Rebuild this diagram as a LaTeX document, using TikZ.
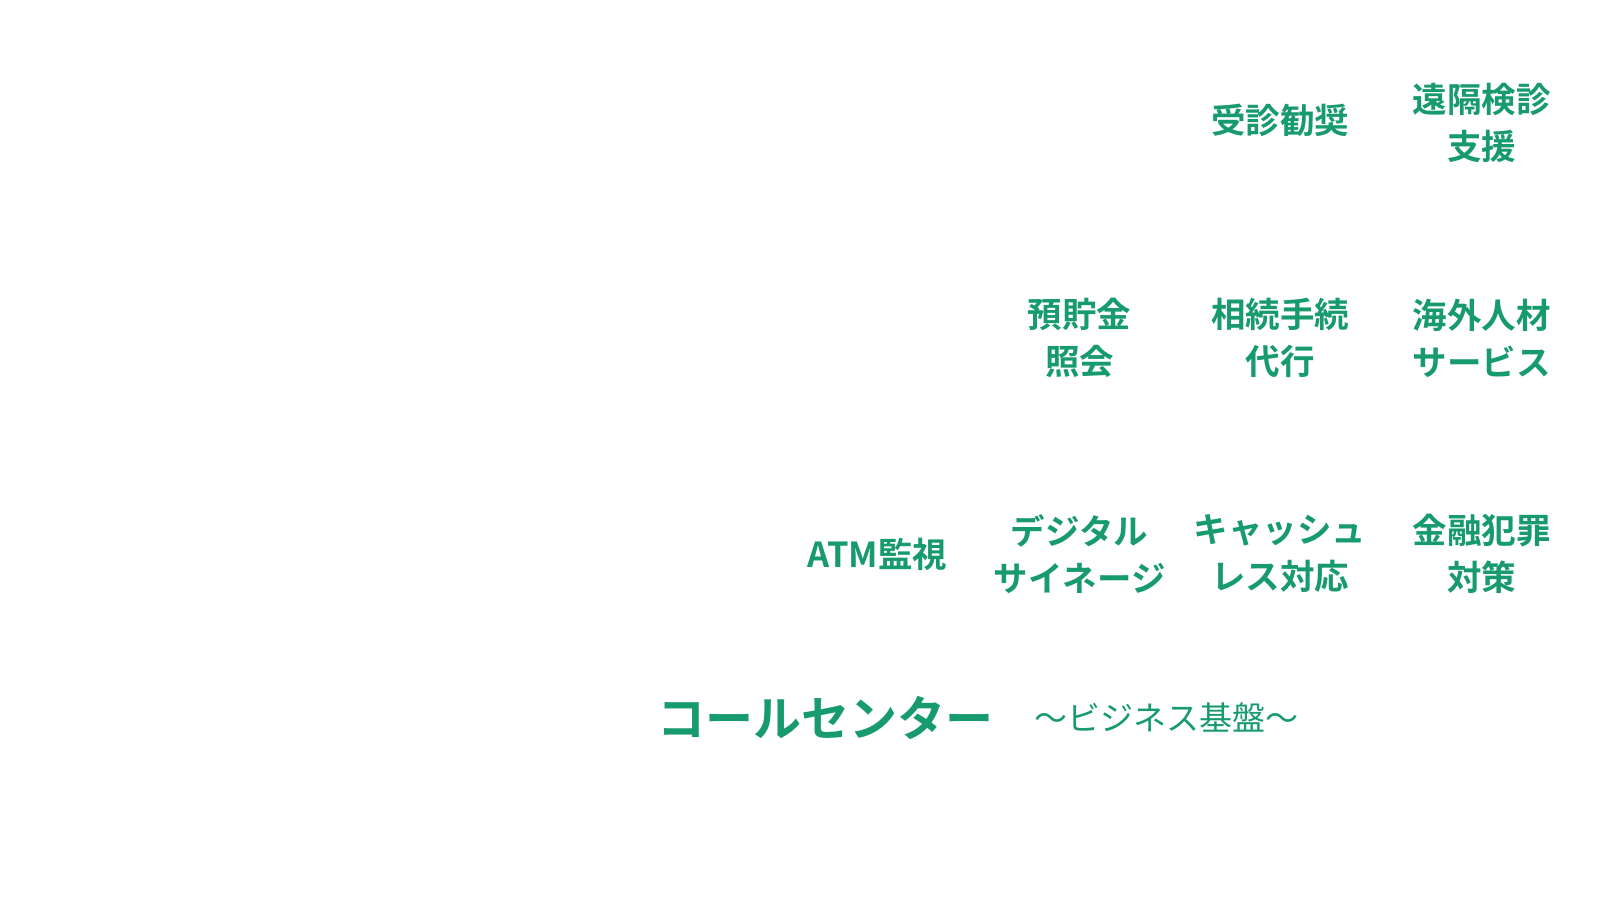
\documentclass[tikz,border=0pt]{standalone}
\usepackage{fontspec}
\newfontfamily\cjk[BoldFont=* Bold]{Noto Sans CJK JP}
\definecolor{tg}{HTML}{179B6E}
\begin{document}
\begin{tikzpicture}[x=1pt,y=-1pt,
  item/.style={font=\cjk\bfseries\fontsize{34.5}{47}\selectfont, text=tg, align=center, inner sep=0pt},
  big/.style={font=\cjk\bfseries\fontsize{48}{54}\selectfont, text=tg, inner sep=0pt},
  sub/.style={font=\cjk\fontsize{33}{40}\selectfont, text=tg, inner sep=0pt}]
\useasboundingbox[fill=white] (0,0) rectangle (1600,920);
\node[item] (jushin) at (1280,120.5) {受診勧奨};
\node[item] (enkaku) at (1481.6,122.5) {遠隔検診\\支援};
\node[item] (yochokin) at (1079.6,338) {預貯金\\照会};
\node[item] (sozoku) at (1280,338) {相続手続\\代行};
\node[item] (kaigai) at (1481.6,338) {海外人材\\サービス};
\node[item] (atm) at (877.6,554) {ATM監視};
\node[item] (digital) at (1079.6,554) {デジタル\\サイネージ};
\node[item] (cashless) at (1280,554) {キャッシュ\\レス対応};
\node[item] (kinyu) at (1481.6,554) {金融犯罪\\対策};
\node[big] (call) at (825.5,717.5) {コールセンター};
\node[sub] (biz) at (1166.3,717.5) {～ビジネス基盤～};
\end{tikzpicture}
\end{document}
